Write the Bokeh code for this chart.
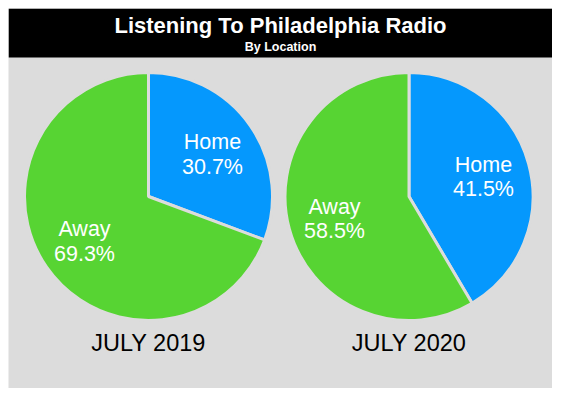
import math
from bokeh.plotting import figure
from bokeh.models import Range1d, ColumnDataSource
from bokeh.core.properties import value
from bokeh.embed import file_html
from bokeh.resources import INLINE

# ---- data ----
periods = ["JULY 2019", "JULY 2020"]
categories = ["Home", "Away"]
home_pct = [30.7, 41.5]
away_pct = [69.3, 58.5]
colors = {"Home": "#0598FD", "Away": "#57D433"}
title_text = "Listening To Philadelphia Radio"
subtitle_text = "By Location"

W, H = 544, 380
BG = "#DCDCDC"
FONT = value("Liberation Sans")

p = figure(width=W, height=H, output_backend="svg", toolbar_location=None,
           x_range=Range1d(0, W), y_range=Range1d(0, H), min_border=0)
p.margin = (8, 8, 8, 8)
p.axis.visible = False
p.grid.visible = False
p.outline_line_color = None
p.background_fill_color = BG
p.border_fill_color = BG

# title bar
p.quad(left=0, right=W, bottom=331, top=H, fill_color="black", line_color=None)
p.text(x=[W / 2], y=[363], text=[title_text], text_font=FONT, text_font_size="22px",
       text_font_style="bold", text_color="white", text_align="center", text_baseline="middle")
p.text(x=[W / 2], y=[342], text=[subtitle_text], text_font=FONT, text_font_size="12.5px",
       text_font_style="bold", text_color="white", text_align="center", text_baseline="middle")

centers_x = [140, 400.5]
cy = 192
R = 124
home_label_pos = [(204, 247, 222), (475, 224, 200)]
away_label_pos = [(76, 160, 135), (326, 182, 158)]

for i, period in enumerate(periods):
    h = home_pct[i] / 100.0
    start = math.pi / 2
    home_end = start - 2 * math.pi * h
    away_end = start - 2 * math.pi
    src = ColumnDataSource(dict(
        x=[centers_x[i], centers_x[i]], y=[cy, cy],
        start=[start, home_end], end=[home_end, away_end],
        color=[colors["Home"], colors["Away"]], cat=categories))
    p.wedge(x="x", y="y", radius=R, start_angle="start", end_angle="end",
            direction="clock", fill_color="color", line_color=BG, line_width=3, source=src)

    hx, hy1, hy2 = home_label_pos[i]
    ax, ay1, ay2 = away_label_pos[i]
    p.text(x=[hx, hx, ax, ax], y=[hy1, hy2, ay1, ay2],
           text=["Home", f"{home_pct[i]:.1f}%", "Away", f"{away_pct[i]:.1f}%"],
           text_font=FONT, text_font_size="21.5px", text_color="white",
           text_align="center", text_baseline="middle")
    p.text(x=[centers_x[i]], y=[46], text=[period], text_font=FONT, text_font_size="23.5px",
           text_color="black", text_align="center", text_baseline="middle")

open("out.html", "w").write(file_html(p, INLINE))
